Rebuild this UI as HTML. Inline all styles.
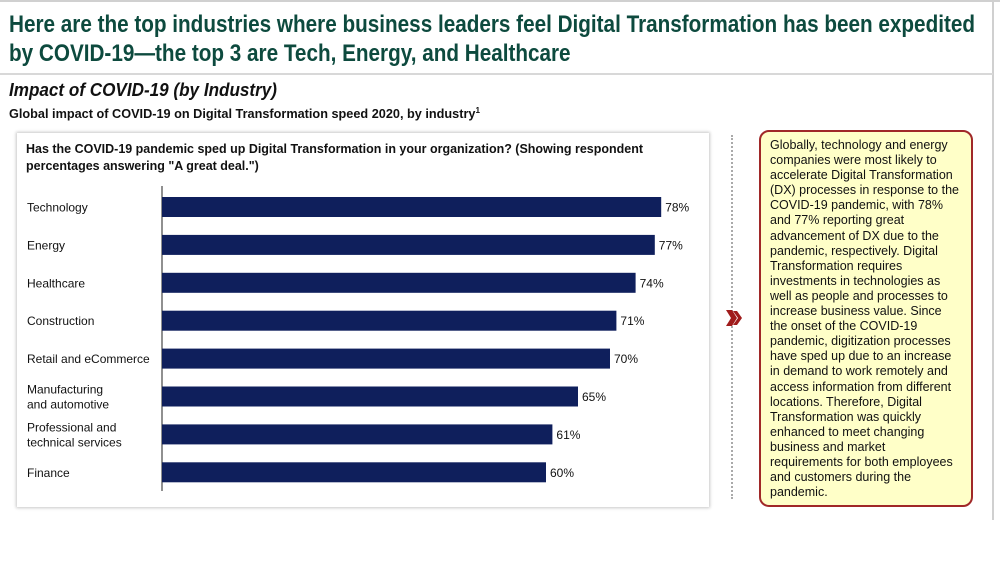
<!DOCTYPE html>
<html><head><meta charset="utf-8"><style>
body{margin:0;width:1000px;height:563px;background:#fff;position:relative;overflow:hidden;font-family:"Liberation Sans",sans-serif}
.abs{position:absolute}
.fit{transform-origin:0 0;white-space:nowrap}
</style></head><body>
<div class="abs" style="left:0;top:0;width:1000px;height:2px;background:#d0d0d0"></div>
<div class="abs" style="left:992px;top:0;width:2px;height:520px;background:#d0d0d0"></div>
<div class="abs fit" id="t1" data-w="966" style="left:9px;top:10px;font-size:24px;font-weight:bold;color:#0d4a3e;line-height:29px">Here are the top industries where business leaders feel Digital Transformation has been expedited<br>by COVID-19—the top 3 are Tech, Energy, and Healthcare</div>
<div class="abs" style="left:0;top:73px;width:993px;height:2px;background:#d8d8d8"></div>
<div class="abs fit" id="t2" data-w="268" style="left:9px;top:80px;font-size:18px;font-style:italic;font-weight:bold;color:#111">Impact of COVID-19 (by Industry)</div>
<div class="abs fit" id="t3" data-w="471" style="left:9px;top:106px;font-size:12.5px;font-weight:bold;color:#111">Global impact of COVID-19 on Digital Transformation speed 2020, by industry<sup style="font-size:8px">1</sup></div>
<div class="abs" style="left:17px;top:133px;width:692px;height:374px;background:#fff;box-shadow:0 0 3px 1px #c8c8c8"></div>
<div class="abs fit" id="t4" data-w="617" style="left:26px;top:140px;font-size:13px;font-weight:bold;color:#111;line-height:17px">Has the COVID-19 pandemic sped up Digital Transformation in your organization? (Showing respondent<br>percentages answering "A great deal.")</div>
<svg class="abs" style="left:0;top:0" width="1000" height="563" id="chart"></svg>
<div class="abs" style="left:731px;top:135px;height:364px;border-left:2px dotted #aaa"></div>
<svg class="abs" style="left:726px;top:310px" width="20" height="16"><polygon points="0,0 6,0 11,8 6,16 0,16 5,8" fill="#a01c1c"/><polygon points="7,1 11,1 16,8 11,15 7,15 12,8" fill="#a01c1c"/></svg>
<div class="abs" style="left:759px;top:130px;width:192px;height:360px;padding:6px 9px 7px 9px;background:#ffffc8;border:2px solid #a02828;border-radius:10px;font-size:12.5px;line-height:15.1px;color:#111;white-space:nowrap">Globally, technology and energy<br>companies were most likely to<br>accelerate Digital Transformation<br>(DX) processes in response to the<br>COVID-19 pandemic, with 78%<br>and 77% reporting great<br>advancement of DX due to the<br>pandemic, respectively. Digital<br>Transformation requires<br>investments in technologies as<br>well as people and processes to<br>increase business value. Since<br>the onset of the COVID-19<br>pandemic, digitization processes<br>have sped up due to an increase<br>in demand to work remotely and<br>access information from different<br>locations. Therefore, Digital<br>Transformation was quickly<br>enhanced to meet changing<br>business and market<br>requirements for both employees<br>and customers during the<br>pandemic.</div>
<script>
const categories=[["Technology"],["Energy"],["Healthcare"],["Construction"],["Retail and eCommerce"],["Manufacturing","and automotive"],["Professional and","technical services"],["Finance"]];
const values=[78,77,74,71,70,65,61,60];
const valueLabels=["78%","77%","74%","71%","70%","65%","61%","60%"];
const svg=document.getElementById('chart');const NS='http://www.w3.org/2000/svg';
const x0=162,pxPer=6.4,y0=188,step=37.9,bh=20;
const xs=v=>x0+v*pxPer, ys=i=>y0+i*step;
function mk(t,a){const e=document.createElementNS(NS,t);for(const k in a)e.setAttribute(k,a[k]);svg.appendChild(e);return e;}
const ax=mk('line',{x1:x0,x2:x0,y1:186,y2:491,stroke:'#222','stroke-width':1});


values.forEach((v,i)=>{
 const r=mk('rect',{x:x0,y:ys(i)+9,width:xs(v)-x0,height:bh,fill:'#0f1f5c'});
 
 
 const t=mk('text',{x:xs(v)+4,y:ys(i)+23.5,'font-size':12,fill:'#111','font-family':'Liberation Sans, sans-serif'});
 t.textContent=valueLabels[i];
 
 
 const lines=categories[i];
 lines.forEach((ln,j)=>{
  const c=mk('text',{x:27,y:ys(i)+23.5+(j-(lines.length-1)/2)*15,'font-size':12,fill:'#111','font-family':'Liberation Sans, sans-serif'});
  c.textContent=ln;
  
  
 });
});
document.querySelectorAll('.fit').forEach(el=>{
 const w=el.getBoundingClientRect().width;const target=+el.dataset.w;
 el.style.transform='scaleX('+(target/w)+')';
});
</script>
</body></html>
